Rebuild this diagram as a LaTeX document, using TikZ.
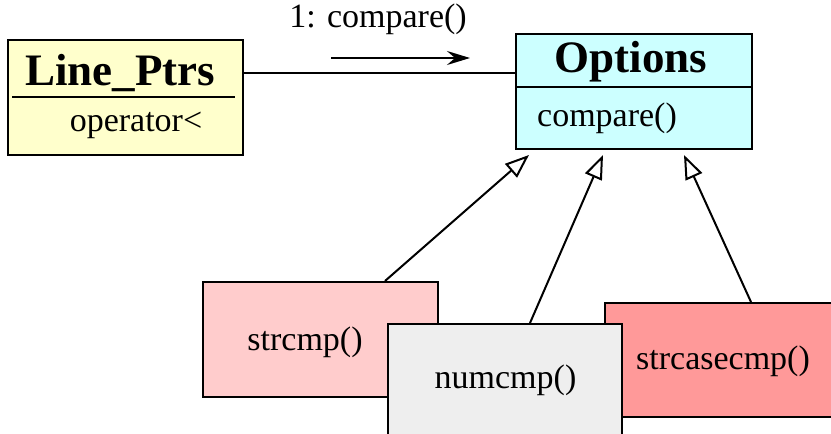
\documentclass[tikz,border=0pt]{standalone}
\usepackage{fontspec}
\setmainfont{Liberation Serif}
\usetikzlibrary{arrows.meta,positioning}
\usepackage{xcolor}

\definecolor{ptrsyellow}{HTML}{FFFFCC}
\definecolor{optcyan}{HTML}{CCFFFF}
\definecolor{strpink}{HTML}{FFCCCC}
\definecolor{numgrey}{HTML}{EEEEEE}
\definecolor{casered}{HTML}{FF9999}

\tikzset{
  classbox/.style={draw, line width=2pt, inner sep=0pt, anchor=north west},
  titletext/.style={anchor=base, inner sep=0pt, font=\fontsize{45}{50}\selectfont\bfseries},
  plaintext/.style={anchor=base, inner sep=0pt, font=\fontsize{34}{40}\selectfont},
  inherits/.style={line width=2pt, -{Triangle[open, length=24pt, width=18pt]}},
}

\begin{document}
\begin{tikzpicture}[x=1pt, y=-1pt]
        \useasboundingbox (0,0) rectangle (831,434);

        % Line_Ptrs class (upper left)
        \node[classbox, fill=ptrsyellow, minimum width=235pt, minimum height=115pt] (ptrs) at (7,39) {};
        \node[titletext] (ptrstitle) at (120,85) {Line\_Ptrs};
        \draw[line width=2pt] (12,97) -- (235,97);
        \node[plaintext] (ptrsop) at (136,131) {operator<};

        % Options class (upper right)
        \node[classbox, fill=optcyan, minimum width=236pt, minimum height=115pt] (opt) at (515,33) {};
        \node[titletext] (opttitle) at (631,72) {Options};
        \draw[line width=2pt] (opt.west |- 0,87) -- (opt.east |- 0,87);
        \node[plaintext] (optcmp) at (607,126) {compare()};

        % Association and message
        \coordinate (assocy) at (0,73);
        \draw[line width=2pt] (ptrs.east |- assocy) -- (opt.west |- assocy);
        \coordinate (msgstart) at (331,58);
        \coordinate (msgend) at (470,58);
        \draw[line width=2pt, -{Stealth[length=23pt, width=14pt, inset=8pt]}] (msgstart) -- (msgend);
        \node[plaintext] (msg) at (378,27) {1: compare()};

        % Strategy subclasses (numcmp in front)
        \node[classbox, fill=strpink, minimum width=235pt, minimum height=115pt] (strcmp) at (202,281) {};
        \node[plaintext] (strcmptext) at (305,350) {strcmp()};
        \node[classbox, fill=casered, minimum width=240pt, minimum height=114pt] (strcase) at (603.5,302) {};
        \node[plaintext] (strcasetext) at (723,369) {strcasecmp()};
        \node[classbox, fill=numgrey, minimum width=234pt, minimum height=130pt] (numcmp) at (387,323) {};
        \node[plaintext] (numcmptext) at (505.5,388) {numcmp()};

        % Generalisation arrows
        \coordinate (tipa) at ([xshift=-105pt, yshift=-5pt]opt.south);
        \coordinate (tipb) at ([xshift=-31pt, yshift=-5pt]opt.south);
        \coordinate (tipc) at ([xshift=50pt, yshift=-5pt]opt.south);
        \draw[inherits] ([xshift=64.5pt]strcmp.north) -- (tipa);
        \draw[inherits] ([xshift=25pt]numcmp.north) -- (tipb);
        \draw[inherits] ([xshift=26.5pt]strcase.north) -- (tipc);
    \end{tikzpicture}
\end{document}
